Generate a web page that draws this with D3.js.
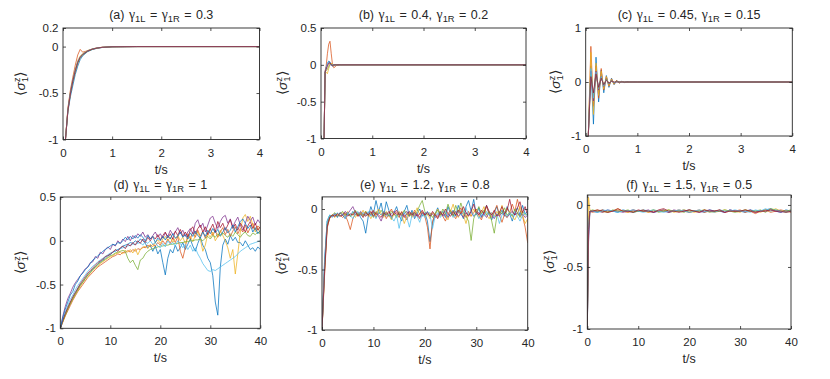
<!DOCTYPE html>
<html>
<head>
<meta charset="utf-8">
<script src="https://cdn.jsdelivr.net/npm/d3@7"></script>
<style>
  body { margin: 0; background: #fff; }
  svg { font-family: "Liberation Sans", Arial, Helvetica, sans-serif; }
</style>
</head>
<body>
<svg id="drawing_region"></svg>
<script>
// MATLAB default line colours, series i uses colour i % 7
const matlabColors = ['#0072BD', '#D95319', '#EDB120', '#7E2F8E', '#77AC30', '#4DBEEE', '#A2142F'];

const titles = [
    '(a) γ_{1L} = γ_{1R} = 0.3',
    '(b) γ_{1L} = 0.4, γ_{1R} = 0.2',
    '(c) γ_{1L} = 0.45, γ_{1R} = 0.15',
    '(d) γ_{1L} = γ_{1R} = 1',
    '(e) γ_{1L} = 1.2, γ_{1R} = 0.8',
    '(f) γ_{1L} = 1.5, γ_{1R} = 0.5'
];

const ticksShort = [0, 1, 2, 3, 4];
const ticksLong = [0, 10, 20, 30, 40];
const yTicksA = [-1, -0.5, 0, 0.2];
const yTicksB = [-1, -0.5, 0, 0.5];
const yTicksC = [-1, 0, 1];
const yTicksD = [-1, -0.5, 0, 0.5];
const yTicksEF = [-1, -0.5, 0];

// ---- (a) ----
const timeA = [0.05, 0.1, 0.15, 0.2, 0.25, 0.3, 0.35, 0.4, 0.5, 0.6, 0.7, 0.8, 1.0, 1.5, 4];
const seriesA = [
    [-1, -0.7, -0.54, -0.42, -0.3, -0.21, -0.14, -0.1, -0.055, -0.032, -0.018, -0.01, -0.003, 0, 0],
    [-1, -0.66, -0.47, -0.33, -0.2, -0.09, -0.03, -0.06, -0.045, -0.026, -0.015, -0.008, -0.002, 0, 0],
    [-1, -0.67, -0.49, -0.35, -0.24, -0.15, -0.1, -0.075, -0.042, -0.024, -0.013, -0.007, -0.002, 0, 0],
    [-1, -0.68, -0.5, -0.37, -0.26, -0.17, -0.115, -0.085, -0.048, -0.027, -0.015, -0.008, -0.002, 0, 0],
    [-1, -0.69, -0.51, -0.38, -0.27, -0.18, -0.12, -0.09, -0.05, -0.029, -0.016, -0.009, -0.002, 0, 0],
    [-1, -0.68, -0.5, -0.36, -0.25, -0.16, -0.11, -0.08, -0.045, -0.025, -0.014, -0.008, -0.002, 0, 0],
    [-1, -0.69, -0.51, -0.37, -0.26, -0.17, -0.115, -0.085, -0.048, -0.027, -0.015, -0.008, -0.002, 0, 0]
];

// ---- (b) ----
const timeB = [0.06, 0.08, 0.1, 0.125, 0.15, 0.175, 0.2, 0.225, 0.25, 0.3, 0.35, 0.4, 4];
const seriesB = [
    [-1, -0.1, -0.03, 0.02, 0.05, 0.04, 0.0, -0.02, -0.01, 0, 0, 0, 0],
    [-1, -0.08, -0.02, 0.15, 0.28, 0.32, 0.15, 0.0, -0.04, -0.01, 0, 0, 0],
    [-1, -0.12, -0.1, -0.12, -0.05, 0.0, 0.02, 0.01, 0, 0, 0, 0, 0],
    [-1, -0.1, -0.05, 0.0, 0.03, 0.02, -0.01, 0, 0, 0, 0, 0, 0],
    [-1, -0.1, -0.08, -0.06, -0.02, 0.01, 0.01, 0, 0, 0, 0, 0, 0],
    [-1, -0.09, -0.04, 0.01, 0.04, 0.02, -0.01, 0, 0, 0, 0, 0, 0],
    [-1, -0.1, -0.06, -0.02, 0.02, 0.03, 0.0, -0.01, 0, 0, 0, 0, 0]
];

// ---- (c) ----
const timeC = [0.05, 0.1, 0.15, 0.2, 0.25, 0.3, 0.35, 0.4, 0.45, 0.5,
               0.55, 0.6, 0.65, 0.7, 0.75, 0.8, 0.85, 0.9, 0.95, 1.0, 4];
const seriesC = [
    [-1, 0.3, -0.78, 0.46, -0.37, 0.22, -0.2, 0.12, -0.1, 0.07, -0.05, 0.03, -0.02, 0.015, -0.01, 0.005, 0, 0, 0, 0, 0],
    [-1, 0.66, -0.45, 0.3, -0.3, 0.25, -0.15, 0.1, -0.08, 0.06, -0.04, 0.03, -0.02, 0.01, -0.01, 0, 0, 0, 0, 0, 0],
    [-1, 0.55, -0.6, 0.35, -0.25, 0.2, -0.13, 0.1, -0.07, 0.05, -0.04, 0.02, -0.015, 0.01, 0, 0, 0, 0, 0, 0, 0],
    [-1, 0.2, -0.35, 0.2, -0.15, 0.1, -0.08, 0.06, -0.04, 0.03, -0.02, 0.01, 0, 0, 0, 0, 0, 0, 0, 0, 0],
    [-1, 0.15, -0.25, 0.15, -0.12, 0.08, -0.06, 0.05, -0.03, 0.02, -0.01, 0.01, 0, 0, 0, 0, 0, 0, 0, 0, 0],
    [-1, 0.25, -0.3, 0.18, -0.12, 0.1, -0.07, 0.04, -0.03, 0.02, -0.01, 0, 0, 0, 0, 0, 0, 0, 0, 0, 0],
    [-1, 0.1, -0.2, 0.15, -0.1, 0.07, -0.05, 0.03, -0.02, 0.01, 0, 0, 0, 0, 0, 0, 0, 0, 0, 0, 0]
];

// ---- (d), (e): sampled every 0.5 s ----
const timeLong = [
    0, 0.5, 1, 1.5, 2, 2.5, 3, 3.5, 4, 4.5,
    5, 5.5, 6, 6.5, 7, 7.5, 8, 8.5, 9, 9.5,
    10, 10.5, 11, 11.5, 12, 12.5, 13, 13.5, 14, 14.5,
    15, 15.5, 16, 16.5, 17, 17.5, 18, 18.5, 19, 19.5,
    20, 20.5, 21, 21.5, 22, 22.5, 23, 23.5, 24, 24.5,
    25, 25.5, 26, 26.5, 27, 27.5, 28, 28.5, 29, 29.5,
    30, 30.5, 31, 31.5, 32, 32.5, 33, 33.5, 34, 34.5,
    35, 35.5, 36, 36.5, 37, 37.5, 38, 38.5, 39, 39.5,
    40
];

const seriesD = [
    [-1, -0.92, -0.84, -0.78, -0.71, -0.66, -0.6, -0.55, -0.5, -0.47,
     -0.43, -0.39, -0.36, -0.32, -0.3, -0.27, -0.24, -0.22, -0.2, -0.17,
     -0.16, -0.13, -0.12, -0.1, -0.09, -0.06, -0.05, -0.04, -0.02, -0.03,
     0.0, -0.02, 0.02, 0.0, -0.03, -0.08, -0.05, -0.12, -0.06, -0.15,
     -0.1, -0.25, -0.39, -0.2, -0.1, -0.14, -0.05, -0.12, -0.08, -0.02,
     -0.1, -0.04, 0.02, -0.06, -0.12, -0.03, 0.04, -0.05, -0.1, -0.2,
     -0.25, -0.4, -0.7, -0.85, -0.3, -0.05, 0.02, -0.04, 0.06, 0.0,
     0.04, -0.02, -0.02, -0.06, 0.0, -0.05, -0.1, -0.08, -0.12, -0.07,
     -0.1],
    [-1, -0.93, -0.86, -0.8, -0.74, -0.68, -0.63, -0.58, -0.54, -0.5,
     -0.46, -0.42, -0.39, -0.36, -0.33, -0.3, -0.28, -0.26, -0.24, -0.22,
     -0.2, -0.18, -0.17, -0.15, -0.16, -0.13, -0.14, -0.11, -0.13, -0.1,
     -0.12, -0.09, -0.1, -0.07, -0.08, -0.05, -0.07, -0.04, -0.06, -0.02,
     -0.05, 0.0, -0.04, 0.02, -0.03, 0.03, -0.02, 0.05, -0.12, -0.2,
     -0.08, 0.08, 0.02, 0.1, 0.04, 0.12, 0.05, 0.11, 0.03, 0.09,
     0.14, 0.06, 0.12, 0.04, 0.1, 0.15, 0.07, 0.13, 0.05, 0.11,
     0.16, 0.08, 0.14, 0.1, 0.18, 0.09, 0.15, 0.2, 0.12, 0.17,
     0.14],
    [-1, -0.92, -0.85, -0.78, -0.72, -0.67, -0.61, -0.57, -0.52, -0.48,
     -0.44, -0.41, -0.37, -0.34, -0.31, -0.29, -0.26, -0.24, -0.22, -0.2,
     -0.18, -0.17, -0.15, -0.14, -0.13, -0.15, -0.11, -0.13, -0.1, -0.14,
     -0.09, -0.16, -0.1, -0.08, -0.06, -0.09, -0.04, -0.07, -0.02, 0.01,
     -0.03, 0.02, 0.05, 0.0, 0.04, -0.02, 0.03, 0.06, 0.0, 0.04,
     -0.03, 0.02, 0.05, -0.01, 0.06, 0.1, 0.02, -0.12, -0.05, 0.08,
     0.04, 0.1, 0.0, 0.05, 0.12, 0.06, 0.0, -0.08, -0.2, -0.1,
     -0.38, -0.15, 0.1, 0.26, 0.3, 0.22, 0.28, 0.18, 0.1, 0.15,
     0.08],
    [-1, -0.86, -0.75, -0.66, -0.6, -0.53, -0.48, -0.44, -0.4, -0.36,
     -0.32, -0.3, -0.25, -0.24, -0.18, -0.2, -0.13, -0.15, -0.1, -0.07,
     -0.1, -0.04, -0.06, 0.0, -0.03, 0.02, -0.01, 0.05, 0.0, 0.06,
     0.03, 0.08, 0.05, 0.1, 0.04, 0.07, 0.02, 0.06, 0.1, 0.04,
     0.08, 0.03, 0.09, 0.05, 0.12, 0.07, 0.1, 0.15, 0.08, 0.12,
     0.05, 0.1, 0.14, 0.08, 0.2, 0.24, 0.15, 0.2, 0.1, 0.18,
     0.26, 0.28, 0.2, 0.14, 0.22, 0.27, 0.29, 0.2, 0.25, 0.16,
     0.22, 0.27, 0.18, 0.12, 0.2, 0.28, 0.23, 0.27, 0.18, 0.24,
     0.2],
    [-1, -0.92, -0.85, -0.78, -0.72, -0.66, -0.61, -0.56, -0.51, -0.47,
     -0.43, -0.39, -0.36, -0.33, -0.3, -0.27, -0.25, -0.23, -0.21, -0.19,
     -0.17, -0.16, -0.14, -0.13, -0.12, -0.11, -0.12, -0.2, -0.25, -0.22,
     -0.28, -0.33, -0.22, -0.2, -0.15, -0.12, -0.1, -0.09, -0.08, -0.07,
     -0.06, -0.06, -0.05, -0.05, -0.04, -0.04, -0.03, -0.03, -0.02, -0.02,
     -0.01, -0.01, 0.0, 0.0, 0.01, 0.01, 0.02, 0.0, 0.03, 0.05,
     0.02, 0.06, 0.04, 0.08, 0.05, 0.09, 0.06, 0.04, 0.08, 0.05,
     0.1, 0.07, 0.04, 0.08, 0.1, 0.06, 0.05, 0.09, 0.07, 0.1,
     0.08],
    [-1, -0.9, -0.82, -0.74, -0.67, -0.62, -0.56, -0.51, -0.47, -0.43,
     -0.39, -0.35, -0.32, -0.29, -0.27, -0.24, -0.22, -0.2, -0.18, -0.16,
     -0.14, -0.13, -0.11, -0.1, -0.09, -0.08, -0.07, -0.06, -0.05, -0.04,
     -0.04, -0.03, -0.02, -0.05, -0.01, -0.03, 0.0, -0.04, -0.02, -0.06,
     -0.08, -0.03, -0.07, 0.0, -0.04, -0.02, -0.06, 0.0, -0.03, -0.08,
     -0.04, -0.1, -0.05, -0.12, -0.08, -0.15, -0.2, -0.26, -0.3, -0.34,
     -0.35, -0.33, -0.34, -0.32, -0.3, -0.28, -0.26, -0.24, -0.22, -0.2,
     -0.18, -0.15, -0.12, -0.1, -0.08, -0.06, -0.04, -0.03, -0.02, -0.01,
     0.0],
    [-1, -0.91, -0.83, -0.76, -0.7, -0.64, -0.59, -0.54, -0.49, -0.45,
     -0.41, -0.37, -0.34, -0.31, -0.28, -0.25, -0.23, -0.21, -0.18, -0.17,
     -0.15, -0.13, -0.1, -0.12, -0.08, -0.06, -0.09, -0.04, -0.06, -0.02,
     -0.05, 0.0, -0.03, 0.02, -0.02, 0.04, 0.0, 0.05, 0.02, 0.07,
     0.01, 0.06, 0.1, 0.03, 0.08, 0.02, 0.11, 0.06, 0.13, 0.05,
     0.1, 0.04, 0.12, 0.16, 0.08, 0.14, 0.18, 0.1, 0.16, 0.07,
     0.13, 0.19, 0.1, 0.22, 0.15, 0.2, 0.12, 0.18, 0.24, 0.14,
     0.19, 0.12, 0.2, 0.16, 0.1, 0.17, 0.22, 0.14, 0.2, 0.12,
     0.16],
    [-1, -0.88, -0.78, -0.7, -0.62, -0.58, -0.5, -0.46, -0.4, -0.37,
     -0.33, -0.3, -0.26, -0.22, -0.2, -0.17, -0.15, -0.12, -0.1, -0.08,
     -0.06, -0.04, -0.05, -0.02, -0.03, 0.0, 0.04, 0.01, 0.05, 0.02,
     0.06, 0.03, 0.07, 0.04, 0.0, 0.06, 0.02, 0.05, -0.02, 0.03,
     0.0, 0.05, 0.01, 0.06, 0.02, 0.08, 0.03, 0.05, 0.1, 0.04,
     0.07, 0.02, 0.09, 0.05, 0.11, 0.06, 0.03, 0.1, 0.05, 0.12,
     0.08, 0.14, 0.09, 0.13, 0.06, 0.1, 0.15, 0.09, 0.12, 0.18,
     0.1, 0.16, 0.22, 0.25, 0.2, 0.14, 0.18, 0.1, 0.15, 0.08,
     0.12]
];

const seriesE = [
    [-1, -0.42, -0.1, -0.05, -0.06, -0.04, -0.07, -0.03, -0.05, -0.08,
     -0.04, -0.06, -0.02, -0.05, -0.03, -0.07, -0.1, -0.2, -0.06, 0.02,
     -0.04, 0.07, -0.02, 0.05, -0.06, 0.06, -0.01, -0.08, -0.03, 0.02,
     -0.05, -0.1, -0.02, 0.03, -0.06, -0.01, -0.08, -0.04, 0.0, -0.06,
     -0.03, -0.1, -0.27, -0.12, -0.04, 0.01, -0.05, -0.02, -0.07, 0.02,
     -0.04, -0.01, -0.06, 0.03, -0.03, -0.08, 0.02, 0.07, -0.02, 0.08,
     -0.05, 0.01, -0.07, -0.02, 0.03, -0.04, -0.09, -0.03, 0.02, -0.05,
     -0.01, -0.06, 0.02, -0.04, -0.1, -0.03, 0.01, -0.05, 0.03, -0.04,
     -0.02],
    [-1, -0.55, -0.16, -0.07, -0.05, -0.06, -0.04, -0.05, -0.07, -0.05,
     -0.1, -0.17, -0.08, -0.04, -0.06, -0.03, -0.05, -0.02, -0.06, -0.04,
     -0.01, -0.07, -0.03, -0.05, -0.02, -0.08, -0.04, 0.0, -0.05, -0.03,
     -0.07, -0.02, -0.05, -0.09, -0.03, -0.06, -0.01, -0.05, -0.08, -0.03,
     -0.06, -0.15, -0.33, -0.1, -0.04, -0.07, -0.02, -0.06, -0.1, -0.04,
     -0.01, -0.05, -0.08, -0.03, 0.01, -0.04, -0.07, -0.02, -0.06, -0.03,
     0.0, -0.05, -0.09, -0.03, 0.02, -0.04, -0.07, -0.02, 0.03, -0.05,
     -0.11, -0.04, 0.01, -0.03, 0.04, -0.02, 0.08, -0.01, -0.06, -0.15,
     -0.28],
    [-1, -0.5, -0.14, -0.08, -0.05, -0.07, -0.04, -0.06, -0.03, -0.05,
     -0.02, -0.06, -0.04, -0.07, -0.03, -0.05, -0.01, -0.06, -0.04, -0.08,
     -0.03, -0.05, 0.0, -0.04, -0.07, -0.02, -0.05, -0.09, -0.04, -0.06,
     -0.02, -0.05, -0.12, -0.06, -0.03, -0.07, -0.04, 0.01, -0.05, -0.02,
     -0.06, -0.04, -0.08, -0.03, -0.05, 0.0, -0.06, -0.03, -0.05, -0.09,
     -0.02, 0.04, -0.04, -0.07, -0.02, -0.05, -0.12, -0.04, -0.06, 0.0,
     -0.04, -0.07, -0.03, 0.02, -0.05, -0.08, -0.03, -0.06, -0.02, -0.05,
     0.03, -0.04, -0.07, -0.02, -0.06, -0.09, -0.04, 0.02, -0.05, -0.12,
     -0.08],
    [-1, -0.48, -0.13, -0.07, -0.06, -0.04, -0.06, -0.03, -0.05, -0.02,
     -0.04, -0.01, 0.02, -0.03, -0.05, -0.02, -0.04, -0.06, -0.03, -0.05,
     -0.02, -0.04, -0.06, -0.1, -0.04, -0.03, -0.06, -0.04, -0.02, -0.05,
     -0.03, -0.06, -0.04, -0.02, -0.05, -0.03, -0.06, -0.04, -0.07, -0.03,
     -0.05, -0.02, -0.06, -0.04, -0.07, -0.05, -0.02, -0.06, -0.04, -0.07,
     -0.03, -0.05, -0.02, -0.06, -0.04, -0.07, -0.03, -0.05, -0.02, -0.06,
     -0.04, -0.03, -0.06, -0.04, -0.07, -0.03, -0.05, -0.08, -0.04, -0.06,
     -0.03, -0.05, -0.07, -0.04, -0.02, -0.05, -0.03, -0.06, -0.04, -0.07,
     -0.05],
    [-1, -0.5, -0.13, -0.06, -0.05, -0.03, -0.06, -0.04, -0.02, -0.05,
     -0.03, -0.06, -0.04, -0.01, -0.05, -0.03, -0.06, -0.02, -0.05, -0.03,
     -0.07, -0.02, -0.04, -0.01, -0.05, -0.03, -0.06, -0.02, -0.04, -0.07,
     -0.03, -0.05, -0.01, -0.04, -0.06, -0.03, -0.05, -0.02, 0.03, 0.07,
     -0.02, -0.05, -0.03, -0.07, -0.04, -0.01, -0.05, 0.0, -0.04, 0.04,
     -0.02, -0.06, 0.03, -0.03, 0.05, -0.02, -0.06, -0.1, -0.26, -0.08,
     -0.03, 0.02, -0.04, -0.01, -0.05, -0.02, -0.1, -0.2, -0.06, -0.02,
     -0.04, 0.01, -0.05, -0.03, -0.06, 0.0, -0.03, -0.07, -0.02, -0.05,
     -0.04],
    [-1, -0.45, -0.1, -0.05, -0.07, -0.05, -0.03, -0.06, -0.04, -0.07,
     -0.03, -0.05, -0.08, -0.04, -0.02, -0.06, -0.03, -0.05, -0.02, -0.06,
     -0.04, -0.08, -0.03, -0.05, -0.02, -0.06, -0.04, -0.07, -0.1, -0.05,
     -0.16, -0.06, -0.03, -0.07, -0.15, -0.05, -0.03, -0.06, -0.11, -0.04,
     -0.07, -0.02, -0.05, -0.16, -0.06, -0.03, -0.07, -0.04, -0.02, -0.06,
     -0.03, -0.07, -0.04, -0.02, -0.05, -0.03, 0.01, -0.05, -0.02, -0.06,
     -0.03, -0.08, -0.04, -0.06, -0.02, -0.05, -0.03, -0.07, -0.04, -0.12,
     -0.05, -0.02, -0.06, -0.03, -0.05, -0.02, -0.06, -0.1, -0.05, -0.03,
     -0.06],
    [-1, -0.52, -0.15, -0.07, -0.05, -0.06, -0.04, -0.06, -0.05, -0.03,
     -0.06, -0.04, -0.05, -0.02, -0.06, -0.04, -0.07, -0.03, -0.05, -0.02,
     -0.06, -0.03, -0.05, -0.07, -0.03, -0.05, -0.02, -0.06, -0.04, -0.01,
     -0.05, -0.03, -0.07, -0.04, -0.02, -0.05, -0.03, -0.06, -0.04, -0.01,
     -0.05, -0.03, -0.06, -0.02, -0.05, -0.08, -0.03, -0.05, 0.0, -0.04,
     -0.06, -0.02, -0.05, -0.01, -0.04, 0.02, -0.03, -0.06, -0.02, 0.04,
     -0.03, -0.05, -0.01, -0.04, 0.03, -0.02, -0.05, -0.01, -0.06, -0.03,
     0.02, -0.04, -0.01, 0.08, -0.02, -0.05, 0.01, 0.06, -0.03, 0.02,
     -0.05]
];

// ---- (f) ----
const timeF = [0, 0.25, 0.5,
    1, 2, 3, 4, 5, 6, 7, 8, 9, 10,
    11, 12, 13, 14, 15, 16, 17, 18, 19, 20,
    21, 22, 23, 24, 25, 26, 27, 28, 29, 30,
    31, 32, 33, 34, 35, 36, 37, 38, 39, 40];
const seriesF = [
    [-1, -0.25, -0.05,
     -0.05, -0.06, -0.04, -0.05, -0.05, -0.06, -0.04, -0.05, -0.06, -0.05,
     -0.04, -0.05, -0.06, -0.05, -0.04, -0.06, -0.05, -0.05, -0.04, -0.06,
     -0.05, -0.05, -0.06, -0.04, -0.05, -0.05, -0.06, -0.04, -0.05, -0.05,
     -0.06, -0.04, -0.05, -0.05, -0.04, -0.03, -0.05, -0.06, -0.04, -0.05],
    [-1, -0.1, -0.05,
     -0.06, -0.05, -0.04, -0.06, -0.05, -0.04, -0.05, -0.06, -0.05, -0.05,
     -0.04, -0.06, -0.05, -0.05, -0.04, -0.06, -0.05, -0.04, -0.05, -0.06,
     -0.05, -0.04, -0.06, -0.05, -0.05, -0.04, -0.06, -0.05, -0.05, -0.04,
     -0.06, -0.05, -0.07, -0.05, -0.04, -0.06, -0.05, -0.04, -0.05, -0.06],
    [-1, 0.06, -0.04,
     -0.05, -0.04, -0.06, -0.05, -0.05, -0.03, -0.05, -0.06, -0.04, -0.05,
     -0.05, -0.06, -0.04, -0.05, -0.05, -0.04, -0.06, -0.05, -0.04, -0.05,
     -0.06, -0.05, -0.04, -0.05, -0.06, -0.05, -0.04, -0.05, -0.05, -0.06,
     -0.04, -0.05, -0.05, -0.06, -0.04, -0.05, -0.03, -0.05, -0.06, -0.05],
    [-1, -0.3, -0.06,
     -0.05, -0.05, -0.06, -0.04, -0.05, -0.05, -0.06, -0.05, -0.04, -0.05,
     -0.05, -0.04, -0.06, -0.05, -0.05, -0.06, -0.04, -0.05, -0.05, -0.04,
     -0.05, -0.06, -0.05, -0.04, -0.05, -0.05, -0.06, -0.04, -0.05, -0.05,
     -0.05, -0.04, -0.06, -0.05, -0.05, -0.04, -0.05, -0.06, -0.05, -0.05],
    [-1, -0.2, -0.05,
     -0.04, -0.05, -0.05, -0.06, -0.04, -0.05, -0.05, -0.04, -0.06, -0.05,
     -0.05, -0.05, -0.04, -0.06, -0.05, -0.04, -0.05, -0.05, -0.06, -0.04,
     -0.05, -0.05, -0.04, -0.06, -0.05, -0.05, -0.04, -0.05, -0.06, -0.05,
     -0.04, -0.05, -0.05, -0.04, -0.06, -0.03, -0.04, -0.05, -0.05, -0.04],
    [-1, -0.15, -0.05,
     -0.05, -0.06, -0.05, -0.04, -0.05, -0.06, -0.05, -0.05, -0.04, -0.05,
     -0.06, -0.05, -0.04, -0.05, -0.06, -0.05, -0.05, -0.04, -0.05, -0.06,
     -0.05, -0.04, -0.05, -0.05, -0.06, -0.04, -0.05, -0.05, -0.04, -0.05,
     -0.05, -0.06, -0.04, -0.05, -0.03, -0.05, -0.04, -0.05, -0.06, -0.05],
    [-1, -0.2, -0.05,
     -0.05, -0.04, -0.05, -0.06, -0.05, -0.03, -0.05, -0.05, -0.06, -0.04,
     -0.05, -0.05, -0.06, -0.04, -0.03, -0.05, -0.05, -0.06, -0.05, -0.04,
     -0.05, -0.06, -0.04, -0.05, -0.05, -0.04, -0.06, -0.05, -0.05, -0.05,
     -0.04, -0.05, -0.06, -0.05, -0.05, -0.04, -0.05, -0.05, -0.06, -0.05]
];


class TracePanel {
    constructor(config) {
        this.config = {
            parentElement: config.parentElement,
            id: config.id,
            box: config.box,
            xDomain: config.xDomain,
            yDomain: config.yDomain,
            xTicks: config.xTicks,
            yTicks: config.yTicks,
            title: config.title,
            titleY: config.titleY,
            labelX: config.labelX,
            fontSize: config.fontSize || 11.5,
            titleSize: config.titleSize || 12.5
        };
        this.data = null;
        this.init();
    }

    init() {
        const {box, xDomain, yDomain, id} = this.config;
        const svg = d3.select(this.config.parentElement);

        this.x = d3.scaleLinear().domain(xDomain).range([box.left, box.right]);
        this.y = d3.scaleLinear().domain(yDomain).range([box.bottom, box.top]);

        svg.append('clipPath')
            .attr('id', `clip-${id}`)
            .append('rect')
            .attr('x', box.left)
            .attr('y', box.top)
            .attr('width', box.right - box.left)
            .attr('height', box.bottom - box.top);

        this.g = svg.append('g');
        this.lineLayer = this.g.append('g').attr('clip-path', `url(#clip-${id})`);
        this.axisLayer = this.g.append('g');

        this.line = d3.line()
            .x(d => this.x(d[0]))
            .y(d => this.y(d[1]));
    }

    update(data) {
        this.data = data;
        this.render();
    }

    render() {
        const {time, series} = this.data;

        const paths = this.lineLayer.selectAll('path')
            .data(series);

        paths.enter()
            .append('path')
            .merge(paths)
            .attr('d', (s) => this.line(d3.zip(time, s)))
            .attr('fill', 'none')
            .attr('stroke', (s, i) => matlabColors[i % matlabColors.length])
            .attr('stroke-width', 0.75)
            .attr('stroke-linejoin', 'round');

        paths.exit().remove();

        this.drawAxes();
        this.drawLabels();
    }

    drawAxes() {
        const {box, xTicks, yTicks, fontSize} = this.config;
        const ink = '#262626';
        const fmt = d => String(d);
        const a = this.axisLayer;
        a.selectAll('*').remove();

        a.append('g')
            .attr('transform', `translate(0,${box.bottom})`)
            .call(d3.axisBottom(this.x).tickValues(xTicks).tickFormat(fmt)
                .tickSizeInner(-3).tickSizeOuter(0).tickPadding(9));
        a.append('g')
            .attr('transform', `translate(0,${box.top})`)
            .call(d3.axisTop(this.x).tickValues(xTicks).tickFormat('')
                .tickSizeInner(-3).tickSizeOuter(0));
        a.append('g')
            .attr('transform', `translate(${box.left},0)`)
            .call(d3.axisLeft(this.y).tickValues(yTicks).tickFormat(fmt)
                .tickSizeInner(-3).tickSizeOuter(0).tickPadding(4.5));
        a.append('g')
            .attr('transform', `translate(${box.right},0)`)
            .call(d3.axisRight(this.y).tickValues(yTicks).tickFormat('')
                .tickSizeInner(-3).tickSizeOuter(0));

        a.selectAll('.domain').remove();
        a.selectAll('.tick line').attr('stroke', ink).attr('stroke-width', 0.8);
        a.selectAll('.tick text')
            .attr('fill', ink)
            .style('font-size', `${fontSize}px`)
            .style('font-family', '"Liberation Sans", Arial, sans-serif');

        a.append('rect')
            .attr('x', box.left)
            .attr('y', box.top)
            .attr('width', box.right - box.left)
            .attr('height', box.bottom - box.top)
            .attr('fill', 'none')
            .attr('stroke', ink)
            .attr('stroke-width', 0.9);
    }

    drawLabels() {
        const {box, title, titleY, labelX, fontSize, titleSize} = this.config;
        const ink = '#262626';
        const cx = (box.left + box.right) / 2;
        const cy = (box.top + box.bottom) / 2;
        const a = this.axisLayer;

        // title: γ_{..} parts become serif gamma + subscript
        const t = a.append('text')
            .attr('x', cx)
            .attr('y', titleY)
            .attr('text-anchor', 'middle')
            .attr('fill', ink)
            .style('font-size', `${titleSize}px`)
            .style('word-spacing', '1px');
        let shift = 0;
        title.split(/(_\{[^}]*\})/).forEach(part => {
            if (!part) return;
            if (part.startsWith('_{')) {
                t.append('tspan')
                    .attr('dy', 3.2 - shift)
                    .style('font-size', `${titleSize * 0.75}px`)
                    .text(part.slice(2, -1));
                shift = 3.2;
                return;
            }
            part.split(/(γ)/).forEach(bit => {
                if (!bit) return;
                const sp = t.append('tspan').attr('dy', -shift).text(bit);
                shift = 0;
                if (bit === 'γ') {
                    sp.style('font-family', '"Liberation Serif", "Times New Roman", serif')
                        .style('font-size', `${titleSize * 1.1}px`);
                }
            });
        });

        // x label
        a.append('text')
            .attr('x', cx)
            .attr('y', box.bottom + 34)
            .attr('text-anchor', 'middle')
            .attr('fill', ink)
            .style('font-size', '12.5px')
            .text('t/s');

        // y label ⟨σ_1^z⟩
        const yl = a.append('text')
            .attr('transform', `translate(${labelX},${cy}) rotate(-90)`)
            .attr('text-anchor', 'middle')
            .attr('dy', '0.35em')
            .attr('fill', ink)
            .style('font-size', '13.5px');
        yl.append('tspan').text('⟨');
        yl.append('tspan').style('font-style', 'italic').text('σ');
        yl.append('tspan').attr('dx', 0.5).attr('dy', -5).style('font-size', '9px').text('z');
        yl.append('tspan').attr('dx', -4.6).attr('dy', 8.5).style('font-size', '9px').text('1');
        yl.append('tspan').attr('dy', -3.5).text('⟩');
    }
}


d3.select('#drawing_region')
    .attr('width', 830)
    .attr('height', 379);

const panels = [
    {id: 'a', box: {left: 63, right: 259.5, top: 28, bottom: 139.5}, xDomain: [0, 4], yDomain: [-1, 0.2],
     xTicks: ticksShort, yTicks: yTicksA, titleY: 18.5, labelX: 20, time: timeA, series: seriesA},
    {id: 'b', box: {left: 321, right: 526, top: 28, bottom: 138.5}, xDomain: [0, 4], yDomain: [-1, 0.5],
     xTicks: ticksShort, yTicks: yTicksB, titleY: 18.5, labelX: 282, time: timeB, series: seriesB},
    {id: 'c', box: {left: 585.7, right: 792.3, top: 28, bottom: 136}, xDomain: [0, 4], yDomain: [-1, 1],
     xTicks: ticksShort, yTicks: yTicksC, titleY: 18.5, labelX: 555, time: timeC, series: seriesC},
    {id: 'd', box: {left: 60.3, right: 260.3, top: 197, bottom: 328.3}, xDomain: [0, 40], yDomain: [-1, 0.5],
     xTicks: ticksLong, yTicks: yTicksD, titleY: 189, labelX: 20, time: timeLong, series: seriesD},
    {id: 'e', box: {left: 322, right: 527.7, top: 196.9, bottom: 330}, xDomain: [0, 40], yDomain: [-1, 0.1],
     xTicks: ticksLong, yTicks: yTicksEF, titleY: 189, labelX: 281, time: timeLong, series: seriesE},
    {id: 'f', box: {left: 587.3, right: 791, top: 195, bottom: 329}, xDomain: [0, 40], yDomain: [-1, 0.08],
     xTicks: ticksLong, yTicks: yTicksEF, titleY: 189, labelX: 549, time: timeF, series: seriesF}
];

panels.forEach((p, i) => {
    const chart = new TracePanel({
        parentElement: '#drawing_region',
        id: p.id,
        box: p.box,
        xDomain: p.xDomain,
        yDomain: p.yDomain,
        xTicks: p.xTicks,
        yTicks: p.yTicks,
        title: titles[i],
        titleY: p.titleY,
        labelX: p.labelX
    });
    chart.update({time: p.time, series: p.series});
});
</script>
</body>
</html>
